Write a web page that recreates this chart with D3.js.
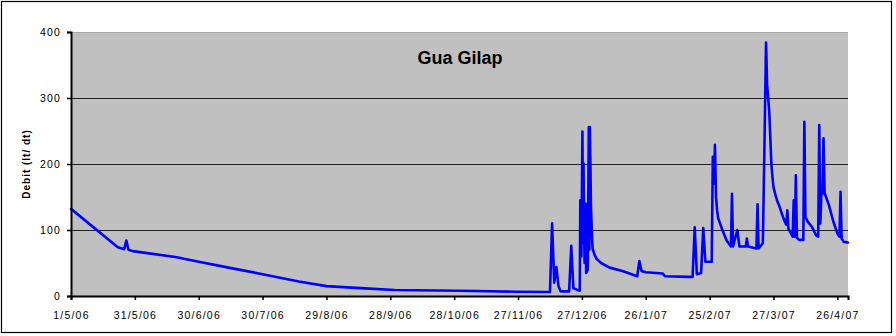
<!DOCTYPE html>
<html>
<head>
<meta charset="utf-8">
<script src="https://cdn.jsdelivr.net/npm/d3@7"></script>
<style>
  html, body { margin: 0; padding: 0; background: #fff; }
  svg { display: block; }
  text { font-family: "Liberation Sans", Arial, sans-serif; }
</style>
</head>
<body>
<svg id="chart" width="896" height="336"></svg>
<script>
// ---- data ----
const chartTitle = "Gua Gilap";
const yAxisTitle = "Debit (lt/ dt)";
const yTicks = [0, 100, 200, 300, 400];
const tickDates = ["2006-05-01","2006-05-31","2006-06-30","2006-07-30","2006-08-29","2006-09-28",
                   "2006-10-28","2006-11-27","2006-12-27","2007-01-26","2007-02-25","2007-03-27","2007-04-26"];
const dates = [
  "2006-05-01","2006-05-23","2006-05-26","2006-05-27","2006-05-28","2006-05-30","2006-06-19","2006-06-30",
  "2006-07-14","2006-07-30","2006-08-16","2006-08-29","2006-09-14","2006-09-30","2006-10-31","2006-11-26",
  "2006-12-12","2006-12-13","2006-12-14","2006-12-15","2006-12-16","2006-12-17","2006-12-21","2006-12-22",
  "2006-12-23","2006-12-25","2006-12-26 00","2006-12-26 06","2006-12-26 18","2006-12-27 06","2006-12-27 12",
  "2006-12-27 18","2006-12-28 06","2006-12-28 18","2006-12-29 00","2006-12-29 18","2006-12-30 06",
  "2006-12-30 12","2006-12-30 18","2006-12-31 00","2006-12-31 06","2006-12-31 18","2007-01-01","2007-01-02",
  "2007-01-03","2007-01-05","2007-01-09","2007-01-15","2007-01-22","2007-01-23","2007-01-24","2007-01-26","2007-02-03",
  "2007-02-04","2007-02-15","2007-02-17","2007-02-18","2007-02-19","2007-02-21","2007-02-22","2007-02-23",
  "2007-02-26","2007-02-26 12","2007-02-27","2007-02-27 12","2007-02-28","2007-02-28 12","2007-03-01","2007-03-03","2007-03-05",
  "2007-03-07","2007-03-07 12","2007-03-08","2007-03-10","2007-03-11","2007-03-14","2007-03-14 12","2007-03-15",
  "2007-03-19","2007-03-19 12","2007-03-20","2007-03-22","2007-03-22 18","2007-03-23 12","2007-03-24",
  "2007-03-24 12","2007-03-25","2007-03-25 12","2007-03-26","2007-03-26 12","2007-03-27","2007-03-28","2007-03-29","2007-03-30",
  "2007-03-31","2007-04-01","2007-04-02","2007-04-02 12","2007-04-03","2007-04-05","2007-04-05 12","2007-04-06",
  "2007-04-06 12","2007-04-07","2007-04-08","2007-04-10","2007-04-10 12","2007-04-11","2007-04-12","2007-04-14",
  "2007-04-16","2007-04-17","2007-04-17 12","2007-04-18","2007-04-18 12","2007-04-19","2007-04-19 12",
  "2007-04-20","2007-04-22","2007-04-24","2007-04-26","2007-04-27","2007-04-27 12","2007-04-28","2007-04-29",
  "2007-05-01"
];
const debit = [
  132, 74, 71, 84, 70, 68, 59, 52,
  43, 33, 22, 15, 12, 9, 8, 6.5,
  6, 110, 20, 44, 15, 7, 7, 76,
  12, 9, 8, 145, 60, 249, 80,
  201, 50, 140, 35, 40, 256,
  70, 256, 200, 135, 90, 72, 62,
  56, 50, 43, 38, 30, 53, 38, 36, 34,
  30, 29, 29, 104, 33, 35, 103, 52,
  52, 211, 170, 229, 150, 130, 118, 100, 84,
  75, 155, 75, 100, 75, 75, 87, 75,
  72, 139, 72, 80, 226, 384, 320,
  300, 280, 241, 200, 181, 165, 152, 142, 134,
  124, 115, 108, 130, 102, 90, 145, 90,
  183, 88, 85, 85, 264, 120, 113, 105,
  92, 90, 259, 110, 156, 155, 239,
  156, 138, 114, 95, 90, 158, 87, 82,
  81
];

// ---- drawing ----
const svg = d3.select("#chart");
const plot = { left: 71, right: 848, top: 32, bottom: 296 };

const p1 = d3.utcParse("%Y-%m-%d"), p2 = d3.utcParse("%Y-%m-%d %H");
const parse = s => (s.length > 10 ? p2(s) : p1(s));
const series = dates.map((d, i) => ({ t: parse(d), v: debit[i] }));

const x = d3.scaleUtc()
  .domain([parse("2006-05-01"), parse("2007-05-01")])
  .range([plot.left, plot.right]);
const y = d3.scaleLinear().domain([0, 400]).range([plot.bottom, plot.top]);

// outer border
svg.append("rect").attr("x", 1.5).attr("y", 1.5).attr("width", 890).attr("height", 331)
  .attr("fill", "#fff").attr("stroke", "#000").attr("stroke-width", 1.2);

// plot area
svg.append("rect").attr("x", plot.left).attr("y", plot.top)
  .attr("width", plot.right - plot.left).attr("height", plot.bottom - plot.top)
  .attr("fill", "#c0c0c0");
svg.append("line").attr("x1", plot.left).attr("x2", plot.right)
  .attr("y1", plot.top + 0.5).attr("y2", plot.top + 0.5).attr("stroke", "#a8a8a8");

// gridlines
svg.append("g").selectAll("line").data(yTicks.filter(v => v > 0 && v < 400)).join("line")
  .attr("x1", plot.left).attr("x2", plot.right)
  .attr("y1", d => Math.round(y(d)) + 0.5).attr("y2", d => Math.round(y(d)) + 0.5)
  .attr("stroke", "#222").attr("stroke-width", 1);

// title
svg.append("text").attr("x", 460).attr("y", 64).attr("text-anchor", "middle")
  .attr("font-weight", "bold").attr("font-size", 18).text(chartTitle);

// line
const line = d3.line().x(d => x(d.t)).y(d => y(d.v));
svg.append("path").datum(series).attr("d", line)
  .attr("fill", "none").attr("stroke", "#0000ff").attr("stroke-width", 2.6)
  .attr("stroke-linejoin", "round").attr("stroke-linecap", "round");

// y axis
const yAxis = d3.axisLeft(y).tickValues(yTicks).tickSize(4).tickPadding(6).tickFormat(d3.format("d"));
const gy = svg.append("g").attr("transform", `translate(${plot.left},0)`).call(yAxis);
gy.select(".domain").attr("stroke", "#000").attr("stroke-width", 2);
gy.selectAll(".tick line").attr("stroke", "#000").attr("stroke-width", 1.5);
gy.selectAll(".tick text").attr("font-family", "Liberation Sans, Arial, sans-serif")
  .attr("font-size", 10.5).attr("letter-spacing", "1.2px").attr("fill", "#000");

// x axis
const xAxis = d3.axisBottom(x).tickValues(tickDates.map(parse)).tickSize(4).tickPadding(12)
  .tickFormat(d3.utcFormat("%-d/%-m/%y"));
const gx = svg.append("g").attr("transform", `translate(0,${plot.bottom})`).call(xAxis);
gx.select(".domain").attr("stroke", "#000").attr("stroke-width", 2);
gx.selectAll(".tick line").attr("stroke", "#000").attr("stroke-width", 1.5);
gx.selectAll(".tick text").attr("font-family", "Liberation Sans, Arial, sans-serif")
  .attr("font-size", 10.5).attr("letter-spacing", "1.2px").attr("fill", "#000");

// y axis title
svg.append("text").attr("transform", "translate(30,164) rotate(-90)")
  .attr("text-anchor", "middle").attr("font-weight", "bold").attr("font-size", 10)
  .attr("letter-spacing", "1px").text(yAxisTitle);
</script>
</body>
</html>
